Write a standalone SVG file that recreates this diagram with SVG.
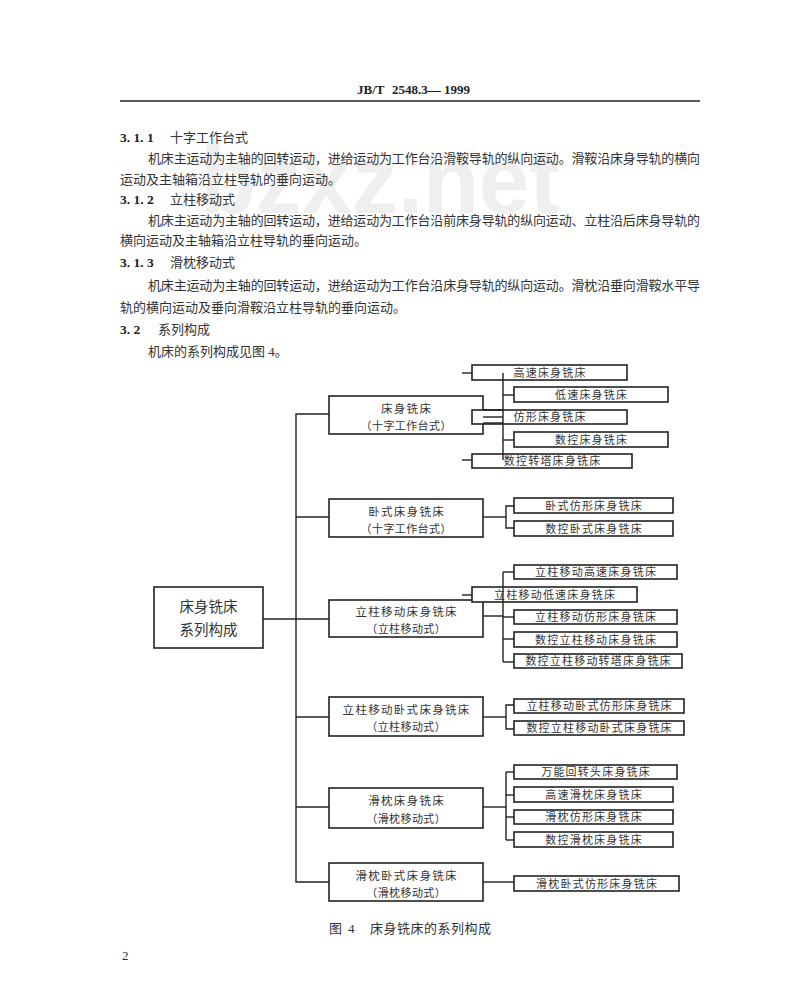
<svg xmlns="http://www.w3.org/2000/svg" width="800" height="996" viewBox="0 0 800 996">
<style>
.bg{fill:#fff}
.wm{font-family:"Liberation Sans",sans-serif;font-weight:bold;font-size:95px;fill:#efefef}
.hd{font-family:"Liberation Serif",serif;font-weight:bold;font-size:13px;fill:#222}
.num{font-family:"Liberation Serif",serif;font-weight:bold;font-size:13.5px;fill:#222}
.p{font-family:"Liberation Serif","Noto Sans CJK SC",serif;font-size:13px;fill:#333}
.box{fill:#fff;stroke:#222;stroke-width:1.6}
.cn{stroke:#222;stroke-width:1.4;fill:none}
.t1{font-family:"Liberation Serif","Noto Sans CJK SC",serif;font-size:11.5px;letter-spacing:1.3px;fill:#333;text-anchor:middle}
.t2{font-family:"Liberation Serif","Noto Sans CJK SC",serif;font-size:11px;letter-spacing:0.4px;fill:#333;text-anchor:middle}
.tc{font-family:"Liberation Serif","Noto Sans CJK SC",serif;font-size:11px;letter-spacing:1.2px;fill:#333;text-anchor:middle}
.tr{font-family:"Liberation Serif","Noto Sans CJK SC",serif;font-size:14.5px;fill:#333;text-anchor:middle}
</style>
<rect class="bg" x="0" y="0" width="800" height="996"/>
<text class="wm" x="200" y="213" textLength="360" lengthAdjust="spacingAndGlyphs">bzxz.net</text>

<g id="page-text">
<text class="hd" y="94"><tspan x="357">JB/T</tspan><tspan x="392" textLength="78" lengthAdjust="spacingAndGlyphs">2548.3— 1999</tspan></text>
<line x1="120" y1="101" x2="700" y2="101" stroke="#222" stroke-width="1.5"/>
<text class="num" x="120" y="142">3. 1. 1</text><text class="p" x="170" y="142">十字工作台式</text>
<text class="p" x="148" y="163" textLength="552" lengthAdjust="spacing">机床主运动为主轴的回转运动，进给运动为工作台沿滑鞍导轨的纵向运动。滑鞍沿床身导轨的横向</text>
<text class="p" x="120" y="184">运动及主轴箱沿立柱导轨的垂向运动。</text>
<text class="num" x="120" y="204">3. 1. 2</text><text class="p" x="170" y="204">立柱移动式</text>
<text class="p" x="148" y="225" textLength="552" lengthAdjust="spacing">机床主运动为主轴的回转运动，进给运动为工作台沿前床身导轨的纵向运动、立柱沿后床身导轨的</text>
<text class="p" x="120" y="245">横向运动及主轴箱沿立柱导轨的垂向运动。</text>
<text class="num" x="120" y="267">3. 1. 3</text><text class="p" x="170" y="267">滑枕移动式</text>
<text class="p" x="148" y="290" textLength="552" lengthAdjust="spacing">机床主运动为主轴的回转运动，进给运动为工作台沿床身导轨的纵向运动。滑枕沿垂向滑鞍水平导</text>
<text class="p" x="120" y="312">轨的横向运动及垂向滑鞍沿立柱导轨的垂向运动。</text>
<text class="num" x="120" y="334">3. 2</text><text class="p" x="158" y="334">系列构成</text>
<text class="p" x="148" y="356">机床的系列构成见图 4。</text>
<text class="p" x="329" y="933">图</text><text class="p" x="348" y="933">4</text><text class="p" x="370" y="933" letter-spacing="0.5">床身铣床的系列构成</text>
<text class="p" x="122" y="960" font-size="11">2</text>
</g>

<g id="root">
<rect class="box" x="154" y="587" width="109" height="61"/>
<text class="tr" x="208.5" y="612">床身铣床</text>
<text class="tr" x="208.5" y="635">系列构成</text>
</g>

<g id="p1">
<rect class="box" x="329" y="396" width="154" height="38"/>
<text class="t1" x="406.6" y="413">床身铣床</text>
<text class="t2" x="406.2" y="430">（十字工作台式）</text>
</g>
<g id="p1c1"><rect class="box" x="472" y="365" width="155" height="15"/><text class="tc" x="550.1" y="377">高速床身铣床</text></g>
<g id="p1c2"><rect class="box" x="514" y="387" width="154" height="15"/><text class="tc" x="591.6" y="399">低速床身铣床</text></g>
<g id="p1c3"><rect class="box" x="472" y="410" width="155" height="14"/><text class="tc" x="550.1" y="421">仿形床身铣床</text></g>
<g id="p1c4"><rect class="box" x="514" y="432" width="154" height="15"/><text class="tc" x="591.6" y="444">数控床身铣床</text></g>
<g id="p1c5"><rect class="box" x="472" y="454" width="160" height="14"/><text class="tc" x="552.6" y="465">数控转塔床身铣床</text></g>

<g id="p2">
<rect class="box" x="329" y="499" width="154" height="38"/>
<text class="t1" x="406.6" y="516">卧式床身铣床</text>
<text class="t2" x="406.2" y="533">（十字工作台式）</text>
</g>
<g id="p2c1"><rect class="box" x="514" y="498" width="159" height="15"/><text class="tc" x="594.1" y="510">卧式仿形床身铣床</text></g>
<g id="p2c2"><rect class="box" x="514" y="521" width="159" height="15"/><text class="tc" x="594.1" y="533">数控卧式床身铣床</text></g>

<g id="p3">
<rect class="box" x="329" y="600" width="154" height="37"/>
<text class="t1" x="406.6" y="616">立柱移动床身铣床</text>
<text class="t2" x="406.2" y="633">（立柱移动式）</text>
</g>
<g id="p3c1"><rect class="box" x="514" y="565" width="163" height="14"/><text class="tc" x="596.1" y="576">立柱移动高速床身铣床</text></g>
<g id="p3c2"><rect class="box" x="472" y="587" width="165" height="15"/><text class="tc" x="555.1" y="599">立柱移动低速床身铣床</text></g>
<g id="p3c3"><rect class="box" x="514" y="610" width="163" height="14"/><text class="tc" x="596.1" y="621">立柱移动仿形床身铣床</text></g>
<g id="p3c4"><rect class="box" x="514" y="632" width="163" height="15"/><text class="tc" x="596.1" y="644">数控立柱移动床身铣床</text></g>
<g id="p3c5"><rect class="box" x="514" y="654" width="168" height="14"/><text class="tc" x="598.6" y="665">数控立柱移动转塔床身铣床</text></g>

<g id="p4">
<rect class="box" x="329" y="697" width="154" height="39"/>
<text class="t1" x="406.6" y="714">立柱移动卧式床身铣床</text>
<text class="t2" x="406.2" y="731">（立柱移动式）</text>
</g>
<g id="p4c1"><rect class="box" x="514" y="699" width="170" height="14"/><text class="tc" x="599.6" y="710">立柱移动卧式仿形床身铣床</text></g>
<g id="p4c2"><rect class="box" x="514" y="721" width="170" height="14"/><text class="tc" x="599.6" y="732">数控立柱移动卧式床身铣床</text></g>

<g id="p5">
<rect class="box" x="329" y="788" width="154" height="40"/>
<text class="t1" x="406.6" y="805">滑枕床身铣床</text>
<text class="t2" x="406.2" y="823">（滑枕移动式）</text>
</g>
<g id="p5c1"><rect class="box" x="514" y="765" width="163" height="14"/><text class="tc" x="596.1" y="776">万能回转头床身铣床</text></g>
<g id="p5c2"><rect class="box" x="514" y="787" width="159" height="15"/><text class="tc" x="594.1" y="799">高速滑枕床身铣床</text></g>
<g id="p5c3"><rect class="box" x="514" y="810" width="159" height="14"/><text class="tc" x="594.1" y="821">滑枕仿形床身铣床</text></g>
<g id="p5c4"><rect class="box" x="514" y="832" width="159" height="15"/><text class="tc" x="594.1" y="844">数控滑枕床身铣床</text></g>

<g id="p6">
<rect class="box" x="329" y="863" width="154" height="38"/>
<text class="t1" x="406.6" y="880">滑枕卧式床身铣床</text>
<text class="t2" x="406.2" y="897">（滑枕移动式）</text>
</g>
<g id="p6c1"><rect class="box" x="514" y="876" width="165" height="15"/><text class="tc" x="597.1" y="888">滑枕卧式仿形床身铣床</text></g>

<g id="connectors" class="cn">
<line x1="263" y1="619" x2="329" y2="619"/>
<polyline points="329,414 296,414 296,882 329,882"/>
<line x1="296" y1="517" x2="329" y2="517"/>
<line x1="296" y1="717" x2="329" y2="717"/>
<line x1="296" y1="807" x2="329" y2="807"/>
<line x1="483" y1="410" x2="503" y2="410"/>
<line x1="483" y1="417" x2="503" y2="417"/>
<line x1="483" y1="423" x2="503" y2="423"/>
<line x1="503" y1="373" x2="503" y2="460"/>
<line x1="462" y1="373" x2="472" y2="373"/>
<line x1="462" y1="460" x2="472" y2="460"/>
<line x1="503" y1="395" x2="514" y2="395"/>
<line x1="503" y1="440" x2="514" y2="440"/>
<line x1="483" y1="517" x2="506" y2="517"/>
<polyline points="514,506 506,506 506,528 514,528"/>
<line x1="483" y1="616" x2="503" y2="616"/>
<line x1="503" y1="572" x2="503" y2="662"/>
<line x1="503" y1="572" x2="514" y2="572"/>
<line x1="503" y1="617" x2="514" y2="617"/>
<line x1="503" y1="639" x2="514" y2="639"/>
<line x1="503" y1="662" x2="514" y2="662"/>
<line x1="462" y1="595" x2="472" y2="595"/>
<line x1="483" y1="717" x2="506" y2="717"/>
<polyline points="514,705 506,705 506,729 514,729"/>
<line x1="483" y1="807" x2="506" y2="807"/>
<line x1="506" y1="772" x2="506" y2="840"/>
<line x1="506" y1="772" x2="514" y2="772"/>
<line x1="506" y1="795" x2="514" y2="795"/>
<line x1="506" y1="817" x2="514" y2="817"/>
<line x1="506" y1="840" x2="514" y2="840"/>
<line x1="483" y1="882" x2="514" y2="882"/>
</g>
</svg>
